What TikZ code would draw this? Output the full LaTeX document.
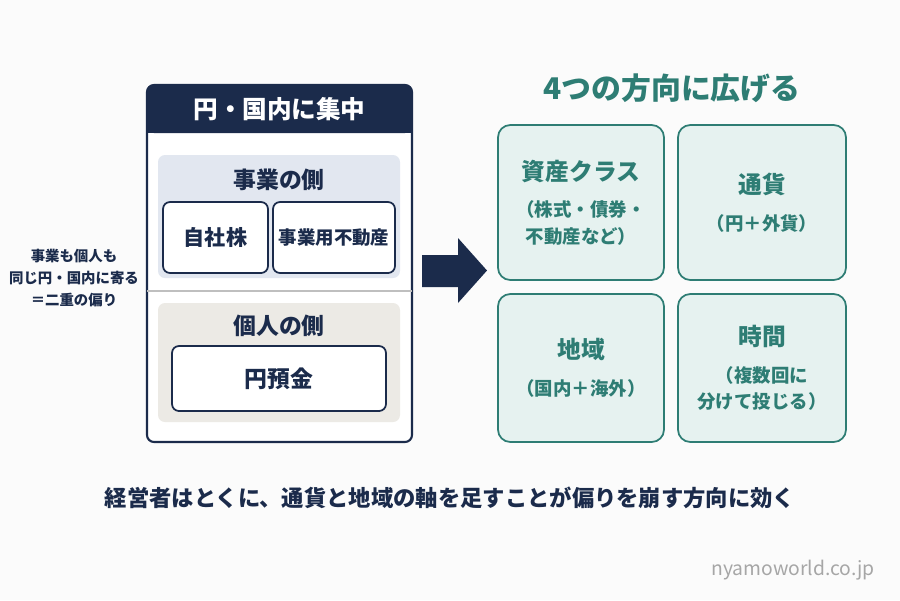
\documentclass[tikz,border=0pt]{standalone}
\usepackage{fontspec}
\setmainfont{Noto Sans CJK JP}
\usetikzlibrary{positioning}
\definecolor{navy}{HTML}{1B2B4B}
\definecolor{teal}{HTML}{2E7D74}
\definecolor{tealbg}{HTML}{E6F2F0}
\definecolor{bizbg}{HTML}{E2E7F0}
\definecolor{perbg}{HTML}{ECEAE5}
\newcommand{\axhead}{\fontsize{13.5pt}{16pt}\bfseries\selectfont}
\tikzset{
  panel/.style={draw=navy, line width=1.2pt, rounded corners=4pt},
  sidebox/.style={rounded corners=4pt, draw=none},
  item/.style={draw=navy, line width=1pt, fill=white, rounded corners=4pt, font=\fontsize{12pt}{14pt}\bfseries\selectfont, text=navy},
  sidehead/.style={text=navy, font=\fontsize{13pt}{15pt}\bfseries\selectfont},
  axis/.style={draw=teal, line width=1pt, fill=tealbg, rounded corners=7pt, align=center, text=teal, font=\fontsize{10.5pt}{15pt}\bfseries\selectfont}
}
\begin{document}
\begin{tikzpicture}[x=0.02cm, y=-0.02cm]
    \useasboundingbox[fill=white!97!gray] (0,0) rectangle (900,600);
    % left panel
    \draw[panel, fill=white] (147,85) rectangle (412,442);
    \fill[navy, rounded corners=4pt] (147,85) rectangle (412,133);
    \fill[navy] (147,115) rectangle (412,133);
    \node[text=white, font=\fontsize{14pt}{16pt}\bfseries\selectfont] (head) at (279.5,109) {円・国内に集中};
    \fill[sidebox, fill=bizbg] (158,155) rectangle (400,278);
    \node[sidehead] (biz) at (279,180) {事業の側};
    \node[item, minimum width=105*0.02cm, minimum height=71*0.02cm] (stock) at (215.5,237.5) {自社株};
    \node[item, minimum width=122*0.02cm, minimum height=71*0.02cm, inner sep=1pt, font=\fontsize{10.5pt}{12pt}\bfseries\selectfont] (estate) at (334,237.5) {事業用不動産};
    \draw[gray!50, line width=0.8pt] (147,291) -- (412,291);
    \fill[sidebox, fill=perbg] (158,303) rectangle (400,422);
    \node[sidehead] (per) at (279,326) {個人の側};
    \node[item, minimum width=214*0.02cm, minimum height=65*0.02cm, font=\fontsize{13pt}{15pt}\bfseries\selectfont] (depo) at (279,378.5) {円預金};
    % left note
    \node[text=navy, align=center, font=\fontsize{8.2pt}{12.5pt}\bfseries\selectfont] (note) at (74,278) {事業も個人も\\同じ円・国内に寄る\\＝二重の偏り};
    % arrow
    \fill[navy] (422,255) -- (458,255) -- (458,238) -- (487,270.5) -- (458,303) -- (458,287) -- (422,287) -- cycle;
    % right side
    \node[text=teal, font=\fontsize{17pt}{19pt}\bfseries\selectfont] (title) at (672,88) {4つの方向に広げる};
    \node[axis, minimum width=166*0.02cm, minimum height=155*0.02cm] (asset) at (581,202.5) {{\axhead 資産クラス}\\[6pt]（株式・債券・\\不動産など）};
    \node[axis, minimum width=168*0.02cm, minimum height=155*0.02cm] (cur) at (762,202.5) {{\axhead 通貨}\\[6pt]（円＋外貨）};
    \node[axis, minimum width=166*0.02cm, minimum height=148*0.02cm] (area) at (581,368) {{\axhead 地域}\\[6pt]（国内＋海外）};
    \node[axis, minimum width=168*0.02cm, minimum height=148*0.02cm] (time) at (762,368) {{\axhead 時間}\\[6pt]（複数回に\\分けて投じる）};
    % bottom
    \node[text=navy, font=\fontsize{12.7pt}{14pt}\bfseries\selectfont] (msg) at (450,498) {経営者はとくに、通貨と地域の軸を足すことが偏りを崩す方向に効く};
    \node[text=gray!70, font=\fontsize{11pt}{12pt}\selectfont] (mark) at (793,570) {nyamoworld.co.jp};
\end{tikzpicture}
\end{document}
